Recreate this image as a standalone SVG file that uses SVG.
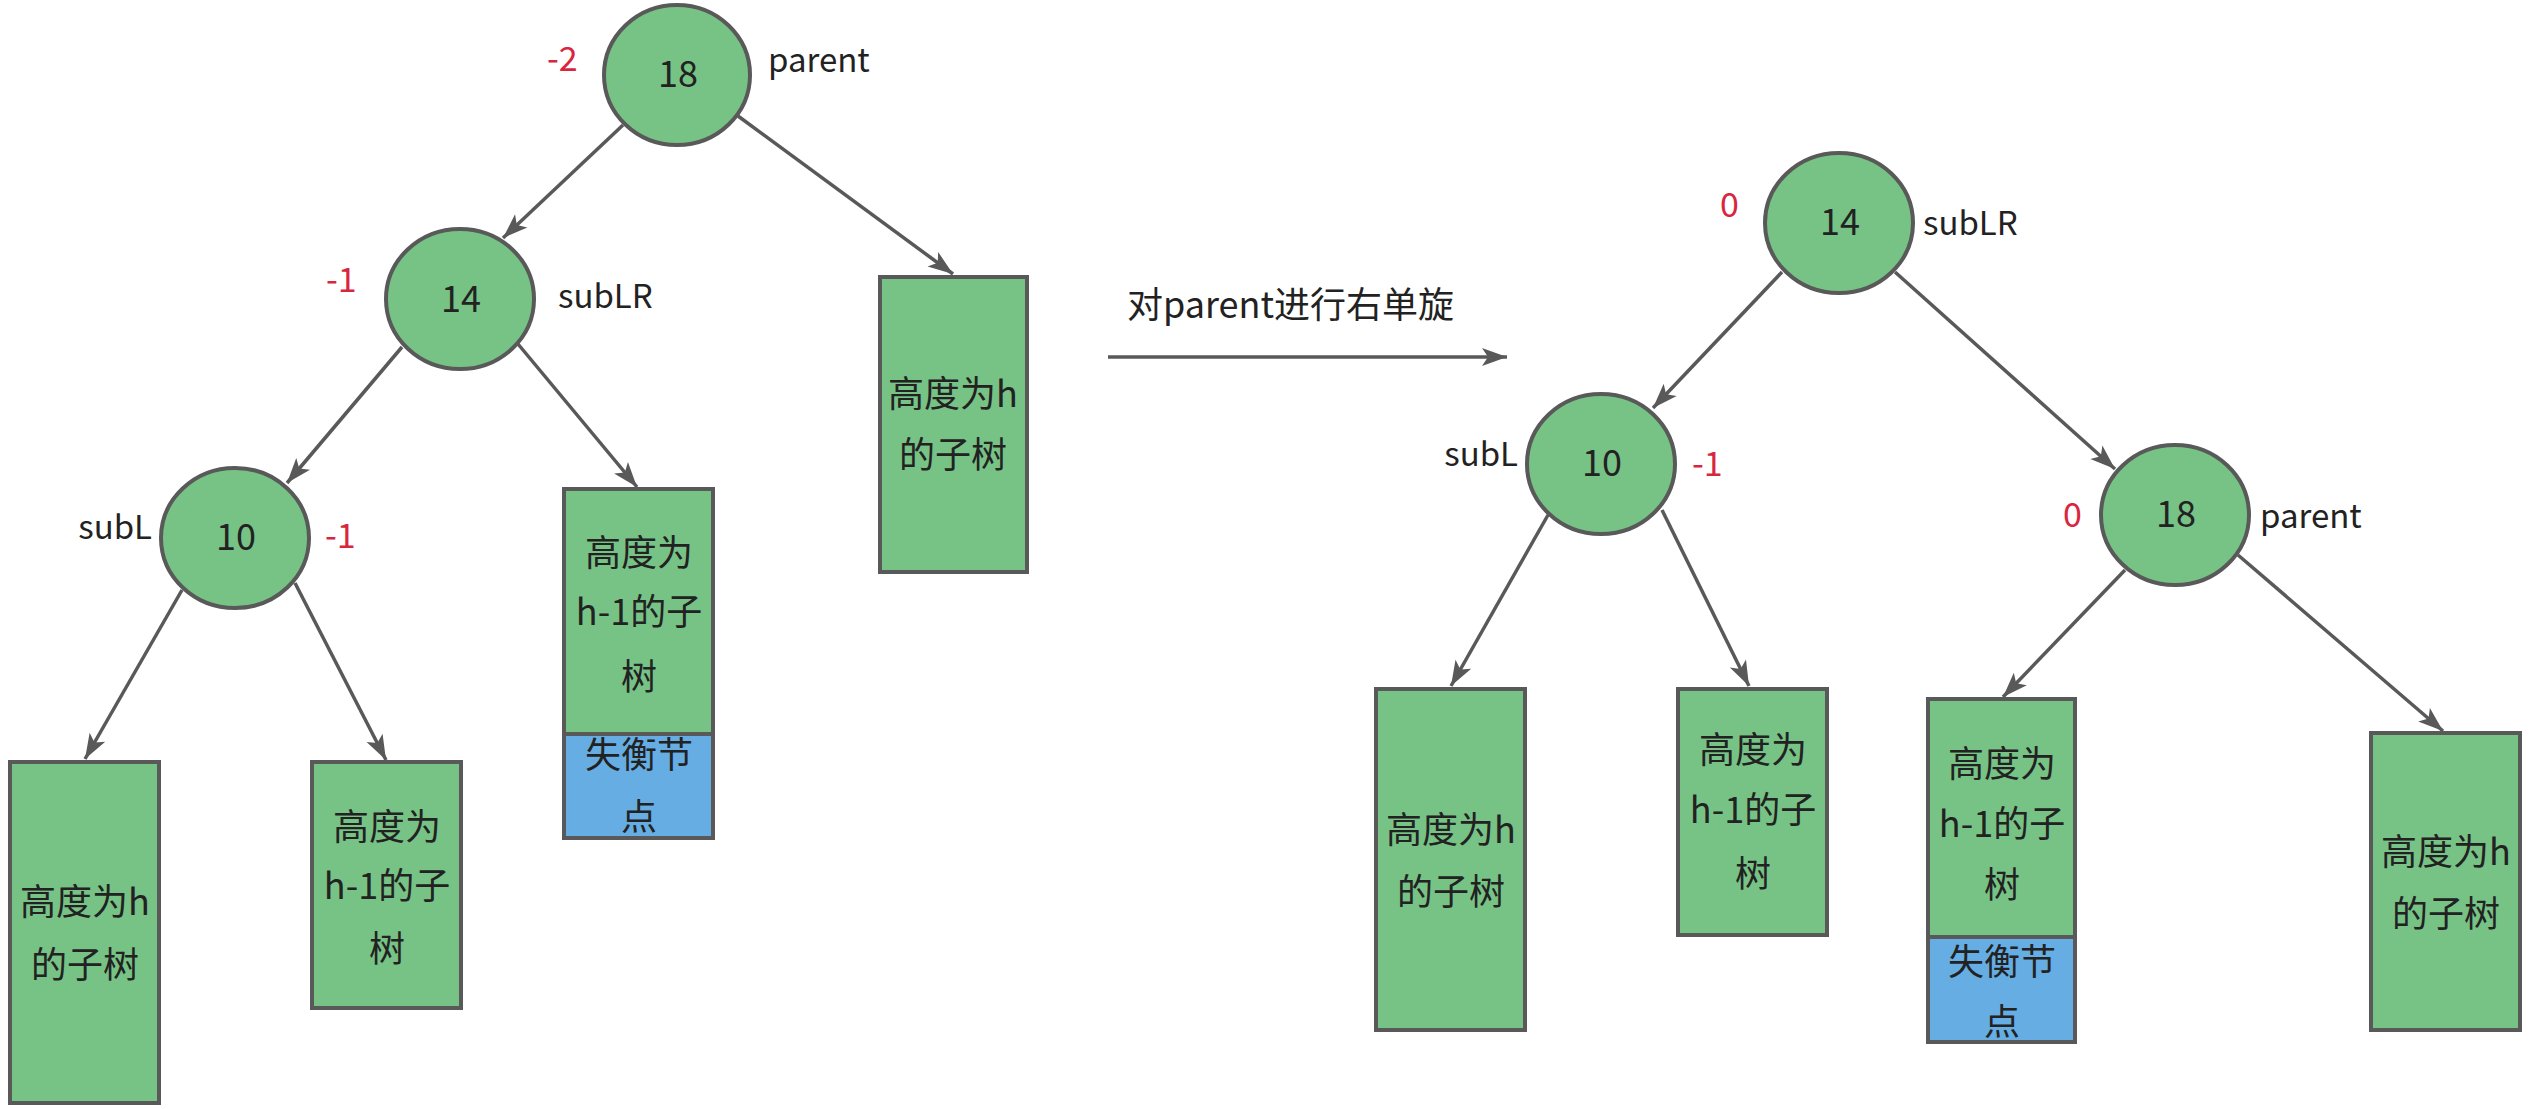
<svg xmlns="http://www.w3.org/2000/svg" width="2533" height="1109" viewBox="0 0 2533 1109">
<style>
text{font-family:"Noto Sans CJK SC","Microsoft YaHei","Noto Sans",sans-serif;font-size:36px;fill:#222222}
.c{text-anchor:middle}
.lab{font-size:33px}
.e{text-anchor:end}
.red{fill:#d9263f;font-size:34px}
.node{fill:#77c386;stroke:#595959;stroke-width:4}
.blue{fill:#65ade3;stroke:#595959;stroke-width:4}
.edge{stroke:#595959;stroke-width:3.5;fill:none;marker-end:url(#arr)}
</style>
<defs>
<marker id="arr" markerUnits="userSpaceOnUse" markerWidth="30" markerHeight="20" refX="25" refY="9" orient="auto" overflow="visible">
<path d="M0,0 L25,9 L0,18 L6,9 Z" fill="#595959"/>
</marker>
</defs>
<rect width="2533" height="1109" fill="#ffffff"/>

<g id="connectors">
<line class="edge" x1="623" y1="125" x2="503" y2="238"/>
<line class="edge" x1="738" y1="116" x2="953" y2="274"/>
<line class="edge" x1="402" y1="347" x2="287" y2="483"/>
<line class="edge" x1="518" y1="344" x2="637" y2="487"/>
<line class="edge" x1="182" y1="590" x2="85" y2="759"/>
<line class="edge" x1="295" y1="583" x2="386" y2="760"/>
<line class="edge" x1="1108" y1="357" x2="1507" y2="357"/>
<line class="edge" x1="1782" y1="272" x2="1653" y2="408"/>
<line class="edge" x1="1895" y1="272" x2="2115" y2="469"/>
<line class="edge" x1="1548" y1="515" x2="1451" y2="686"/>
<line class="edge" x1="1662" y1="510" x2="1749" y2="686"/>
<line class="edge" x1="2125" y1="570" x2="2003" y2="697"/>
<line class="edge" x1="2238" y1="555" x2="2443" y2="731"/>
</g>

<text x="1127" y="318">对parent进行右单旋</text>

<g id="L18">
<ellipse class="node" cx="677" cy="75" rx="73" ry="70"/>
<text class="c" x="678" y="87">18</text>
<text class="red" x="547" y="71">-2</text>
<text class="lab" x="768" y="72">parent</text>
</g>
<g id="L14">
<ellipse class="node" cx="460" cy="299" rx="74" ry="70"/>
<text class="c" x="461" y="312">14</text>
<text class="red" x="326" y="292">-1</text>
<text class="lab" x="558" y="308">subLR</text>
</g>
<g id="L10">
<ellipse class="node" cx="235" cy="538" rx="74" ry="70"/>
<text class="c" x="236" y="550">10</text>
<text class="lab e" x="152" y="539">subL</text>
<text class="red" x="325" y="548">-1</text>
</g>
<g id="Lbox1">
<rect class="node" x="10" y="762" width="149" height="341"/>
<text class="c" x="85" y="915">高度为h</text>
<text class="c" x="85" y="978">的子树</text>
</g>
<g id="Lbox2">
<rect class="node" x="312" y="762" width="149" height="246"/>
<text class="c" x="387" y="840">高度为</text>
<text class="c" x="387" y="899">h-1的子</text>
<text class="c" x="387" y="962">树</text>
</g>
<g id="Lbox3">
<rect class="node" x="564" y="489" width="149" height="245"/>
<rect class="blue" x="564" y="734" width="149" height="104"/>
<text class="c" x="639" y="566">高度为</text>
<text class="c" x="639" y="625">h-1的子</text>
<text class="c" x="639" y="690">树</text>
<text class="c" x="639" y="768">失衡节</text>
<text class="c" x="639" y="830">点</text>
</g>
<g id="Lbox4">
<rect class="node" x="880" y="277" width="147" height="295"/>
<text class="c" x="953" y="407">高度为h</text>
<text class="c" x="953" y="468">的子树</text>
</g>

<g id="R14">
<ellipse class="node" cx="1839" cy="223" rx="74" ry="70"/>
<text class="c" x="1840" y="235">14</text>
<text class="red" x="1720" y="217">0</text>
<text class="lab" x="1923" y="235">subLR</text>
</g>
<g id="R10">
<ellipse class="node" cx="1601" cy="464" rx="74" ry="70"/>
<text class="c" x="1602" y="476">10</text>
<text class="lab e" x="1518" y="466">subL</text>
<text class="red" x="1692" y="476">-1</text>
</g>
<g id="R18">
<ellipse class="node" cx="2175" cy="515" rx="74" ry="70"/>
<text class="c" x="2176" y="527">18</text>
<text class="red" x="2063" y="527">0</text>
<text class="lab" x="2260" y="528">parent</text>
</g>
<g id="RboxA">
<rect class="node" x="1376" y="689" width="149" height="341"/>
<text class="c" x="1451" y="843">高度为h</text>
<text class="c" x="1451" y="905">的子树</text>
</g>
<g id="RboxB">
<rect class="node" x="1678" y="689" width="149" height="246"/>
<text class="c" x="1753" y="763">高度为</text>
<text class="c" x="1753" y="823">h-1的子</text>
<text class="c" x="1753" y="887">树</text>
</g>
<g id="RboxC">
<rect class="node" x="1928" y="699" width="147" height="238"/>
<rect class="blue" x="1928" y="937" width="147" height="105"/>
<text class="c" x="2002" y="777">高度为</text>
<text class="c" x="2002" y="837">h-1的子</text>
<text class="c" x="2002" y="898">树</text>
<text class="c" x="2002" y="975">失衡节</text>
<text class="c" x="2002" y="1035">点</text>
</g>
<g id="RboxD">
<rect class="node" x="2371" y="733" width="149" height="297"/>
<text class="c" x="2446" y="865">高度为h</text>
<text class="c" x="2446" y="927">的子树</text>
</g>
</svg>
